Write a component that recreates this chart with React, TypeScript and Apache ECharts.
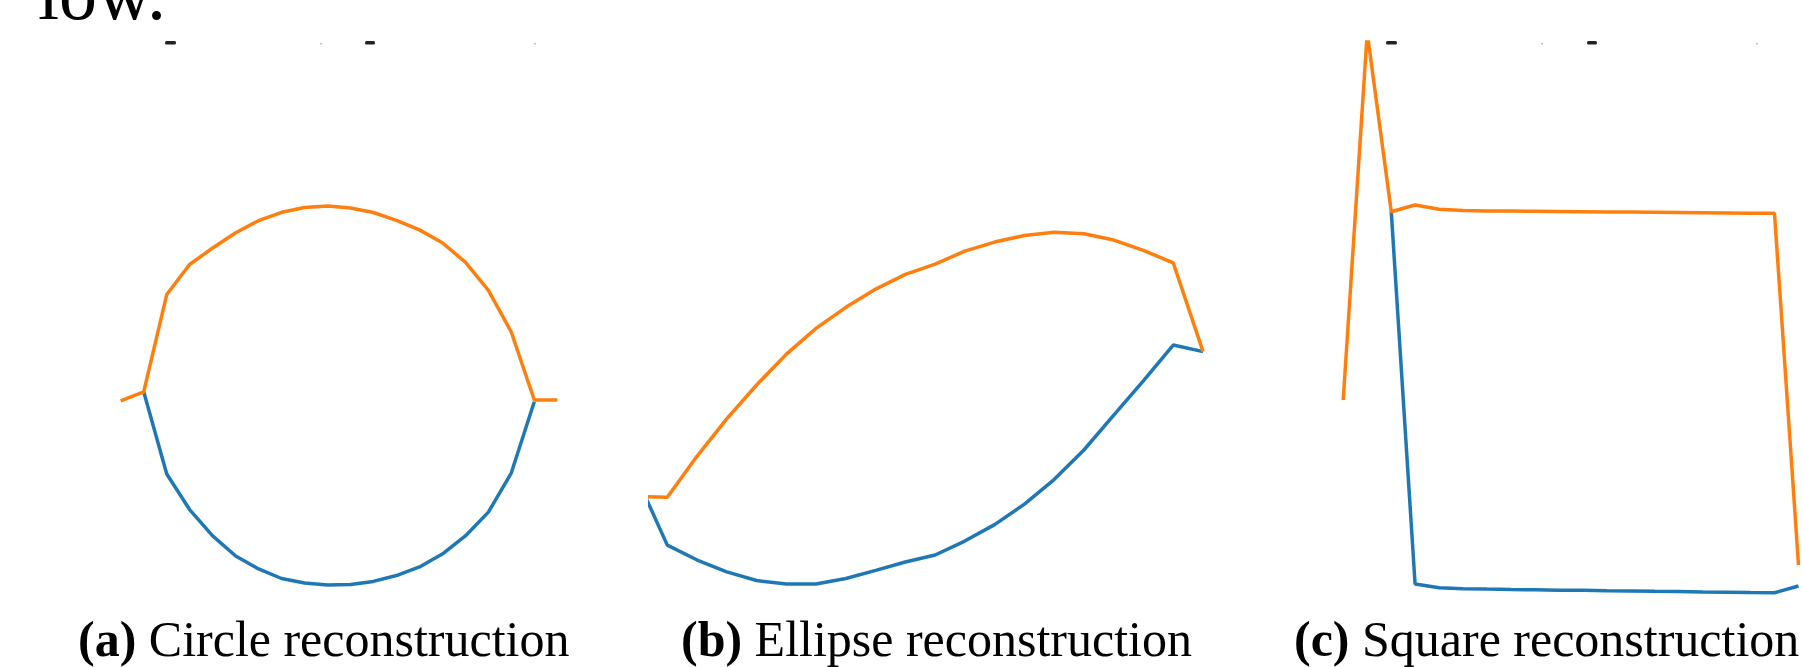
import React, { useEffect, useRef } from "react";
import * as echarts from "echarts";

// Shared x sample grid (normalized shape coordinates)
const X_SAMPLES = [-1.118, -1.0, -0.882, -0.765, -0.647, -0.529, -0.412, -0.294, -0.176, -0.059, 0.059, 0.176, 0.294, 0.412, 0.529, 0.647, 0.765, 0.882, 1.0, 1.118];

// (a) Circle
const CIRCLE_UPPER = [-0.028, 0.019, 0.517, 0.671, 0.755, 0.833, 0.895, 0.938, 0.963, 0.970, 0.960, 0.937, 0.897, 0.848, 0.782, 0.683, 0.538, 0.325, -0.023, -0.023];
const CIRCLE_LOWER = [null, 0.019, -0.402, -0.584, -0.719, -0.822, -0.888, -0.937, -0.960, -0.970, -0.968, -0.952, -0.922, -0.878, -0.812, -0.719, -0.597, -0.397, -0.032, null];

// (b) Ellipse
const ELLIPSE_UPPER = [-0.349, -0.353, -0.190, -0.043, 0.091, 0.213, 0.315, 0.398, 0.470, 0.528, 0.569, 0.620, 0.656, 0.682, 0.695, 0.689, 0.664, 0.623, 0.574, 0.223];
const ELLIPSE_LOWER = [-0.281, -0.542, -0.601, -0.648, -0.682, -0.696, -0.696, -0.674, -0.642, -0.609, -0.581, -0.526, -0.461, -0.380, -0.283, -0.166, -0.028, 0.107, 0.249, 0.223];

// (c) Square
const SQUARE_UPPER = [0.0, 1.80, 0.923, 0.956, 0.935, 0.929, 0.926, 0.926, 0.925, 0.924, 0.923, 0.922, 0.921, 0.920, 0.919, 0.918, 0.917, 0.916, 0.915, -0.809];
const SQUARE_LOWER = [null, null, 0.923, -0.902, -0.920, -0.925, -0.927, -0.929, -0.930, -0.932, -0.933, -0.935, -0.936, -0.938, -0.939, -0.941, -0.942, -0.944, -0.945, -0.912];

const CAPTION_TAGS = ["(a)", "(b)", "(c)"];
const CAPTION_TEXTS = ["Circle reconstruction", "Ellipse reconstruction", "Square reconstruction"];

const BLUE = "#1f77b4";
const ORANGE = "#ff7f0e";

// panel layout: center px, scale px/unit, axis ranges
const PANELS = [
  { cx: 339.0, cy: 395.5, s: 195.3, xmin: -1.25, xmax: 1.25, ymin: -1.1, ymax: 1.1, up: CIRCLE_UPPER, lo: CIRCLE_LOWER, capX: 78 },
  { cx: 920.25, cy: 408, s: 252.96, xmin: -1.0683, xmax: 1.2, ymin: -0.8, ymax: 0.8, up: ELLIPSE_UPPER, lo: ELLIPSE_LOWER, capX: 681 },
  { cx: 1571.3, cy: 400, s: 204, xmin: -1.2, xmax: 1.14, ymin: -1.0, ymax: 1.755, up: SQUARE_UPPER, lo: SQUARE_LOWER, capX: 1294 },
];

const pairs = (ys: (number | null)[]) =>
  X_SAMPLES.map((x, i) => [x, ys[i]]).filter((p) => p[1] !== null);

export default function App() {
  const ref = useRef<HTMLDivElement>(null);
  useEffect(() => {
    if (!ref.current) return;
    const chart = echarts.init(ref.current, null, { renderer: "svg" });
    const grids: any[] = [];
    const xAxes: any[] = [];
    const yAxes: any[] = [];
    const series: any[] = [];
    PANELS.forEach((p, i) => {
      grids.push({
        left: p.cx + p.xmin * p.s,
        top: p.cy - p.ymax * p.s,
        width: (p.xmax - p.xmin) * p.s,
        height: (p.ymax - p.ymin) * p.s,
        containLabel: false,
      });
      xAxes.push({ type: "value", gridIndex: i, min: p.xmin, max: p.xmax, show: false, splitLine: { show: false } });
      yAxes.push({ type: "value", gridIndex: i, min: p.ymin, max: p.ymax, show: false, splitLine: { show: false } });
      series.push({
        type: "line", xAxisIndex: i, yAxisIndex: i, data: pairs(p.lo), showSymbol: false, symbol: "none",
        lineStyle: { color: BLUE, width: 3.5 }, itemStyle: { color: BLUE }, clip: true, z: 2,
      });
      series.push({
        type: "line", xAxisIndex: i, yAxisIndex: i, data: pairs(p.up), showSymbol: false, symbol: "none",
        lineStyle: { color: ORANGE, width: 3.5 }, itemStyle: { color: ORANGE }, clip: true, z: 3,
      });
    });

    const captionFs = 50;
    const graphics: any[] = PANELS.map((p, i) => ({
      type: "text",
      x: p.capX,
      y: 656 - 0.3375 * captionFs,
      style: {
        text: `{b|${CAPTION_TAGS[i]}} ${CAPTION_TEXTS[i]}`,
        font: `${captionFs}px "Liberation Serif", serif`,
        fill: "#000",
        lineHeight: captionFs,
        align: "left",
        verticalAlign: "middle",
        textAlign: "left",
        textVerticalAlign: "middle",
        rich: {
          b: { fontWeight: "bold", fontSize: captionFs, lineHeight: captionFs, fontFamily: '"Liberation Serif", serif', fill: "#000" },
        },
      },
    }));
    const lowFs = 76;
    graphics.push({
      type: "text",
      x: 38,
      y: 19 - 0.3375 * lowFs,
      style: {
        text: "low.",
        font: `${lowFs}px "Liberation Serif", serif`,
        fill: "#000",
        align: "left",
        verticalAlign: "middle",
        textAlign: "left",
        textVerticalAlign: "middle",
      },
    });
    // clipped remnants of glyphs from content above
    const marks = [
      { x: 165, w: 11, dark: true },
      { x: 320, w: 2, dark: false },
      { x: 365, w: 10, dark: true },
      { x: 534, w: 2, dark: false },
      { x: 1386, w: 11, dark: true },
      { x: 1541, w: 2, dark: false },
      { x: 1587, w: 10, dark: true },
      { x: 1756, w: 2, dark: false },
    ];
    marks.forEach((m) =>
      graphics.push({
        type: "rect",
        shape: { x: m.x, y: m.dark ? 41 : 43, width: m.w, height: m.dark ? 3.5 : 1.5, r: 1.5 },
        style: { fill: m.dark ? "#222" : "#aaa" },
      })
    );

    chart.setOption({
      animation: false,
      grid: grids,
      xAxis: xAxes,
      yAxis: yAxes,
      series,
      graphic: graphics,
    });
    return () => chart.dispose();
  }, []);
  return (
    <div
      ref={ref}
      style={{ position: "absolute", left: 0, top: 0, width: 1803, height: 667, background: "#fff" }}
    />
  );
}
